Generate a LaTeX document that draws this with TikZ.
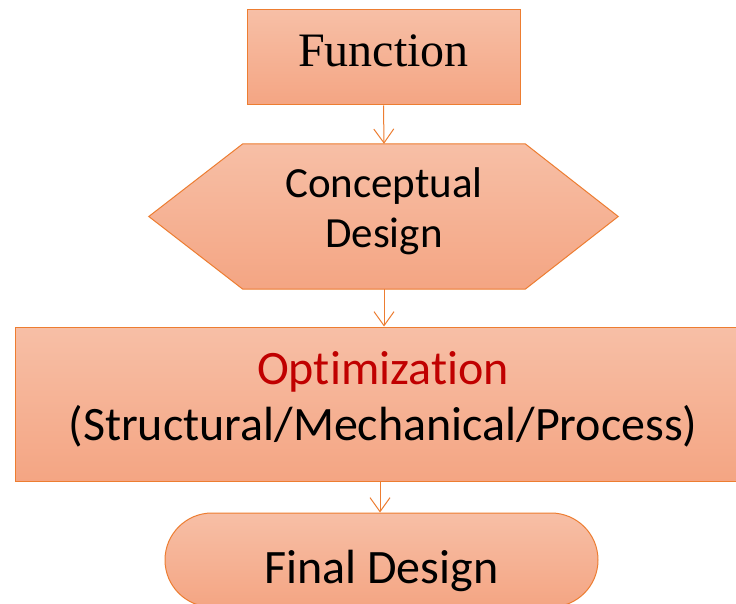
\documentclass[tikz,border=0pt]{standalone}
\usepackage{fontspec}
\setmainfont{Liberation Serif}
\newfontfamily\calibrilike[Ligatures=NoCommon]{Carlito}
\usetikzlibrary{arrows.meta,calc,backgrounds}
\definecolor{edgeorange}{HTML}{ED7D31}
\definecolor{filltop}{HTML}{F7BFA6}
\definecolor{fillbot}{HTML}{F4A583}
\definecolor{optred}{HTML}{C00000}
\tikzset{
  flowbox/.style={shade, top color=filltop, bottom color=fillbot, draw=edgeorange,
    line width=1pt, inner sep=0pt, align=center},
  flowarrow/.style={draw=edgeorange, line width=1pt,
    -{Straight Barb[length=14pt,width=20pt,line width=1pt]}},
  sansbig/.style={font=\calibrilike\fontsize{43}{50}\selectfont},
  sanshuge/.style={font=\calibrilike\fontsize{48}{56}\selectfont},
}
\begin{document}
\begin{tikzpicture}[x=1pt,y=-1pt]
\useasboundingbox (0,0) rectangle (736,604);
\begin{scope}[on background layer]
  \fill[white] (0,0) rectangle (736,604);
\end{scope}

% Function
\node[flowbox, minimum width=273pt, minimum height=95pt, text depth=14pt,
  font=\fontsize{48}{58}\selectfont] (func) at (383.5,57.5) {Function};

% Conceptual design: hexagon drawn around an invisible frame
\node[inner sep=0pt, minimum width=282pt, minimum height=145pt] (concept)
  at (384,216.5) {};
\shade[top color=filltop, bottom color=fillbot, draw=edgeorange, line width=1pt]
  (concept.north west) -- (concept.north east) -- ($(concept.east)+(93,0)$)
  -- (concept.south east) -- (concept.south west) -- ($(concept.west)+(-94,0)$)
  -- cycle;
\node[align=center, inner sep=0pt, sansbig] (concepttext) at (384,211) {Conceptual\\Design};

% Optimization
\node[flowbox, minimum width=736pt, minimum height=154pt, text depth=16pt, sanshuge] (opt)
  at (383,404) {\textcolor{optred}{Optimization}\\(Structural/Mechanical/Process)};

% Final design (terminal)
\node[flowbox, minimum width=433pt, minimum height=94pt, rounded corners=47pt,
  text height=46pt, text depth=0pt, sanshuge] (final) at (381.5,560) {Final Design};

% Connectors
\coordinate (optout) at ($(opt.south)+(-3,0)$);
\coordinate (finalin) at (optout |- final.north);
\draw[flowarrow] (func.south) -- (concept.north);
\draw[flowarrow] (concept.south) -- (concept.south |- opt.north);
\draw[flowarrow] (optout) -- (finalin);
\end{tikzpicture}
\end{document}
